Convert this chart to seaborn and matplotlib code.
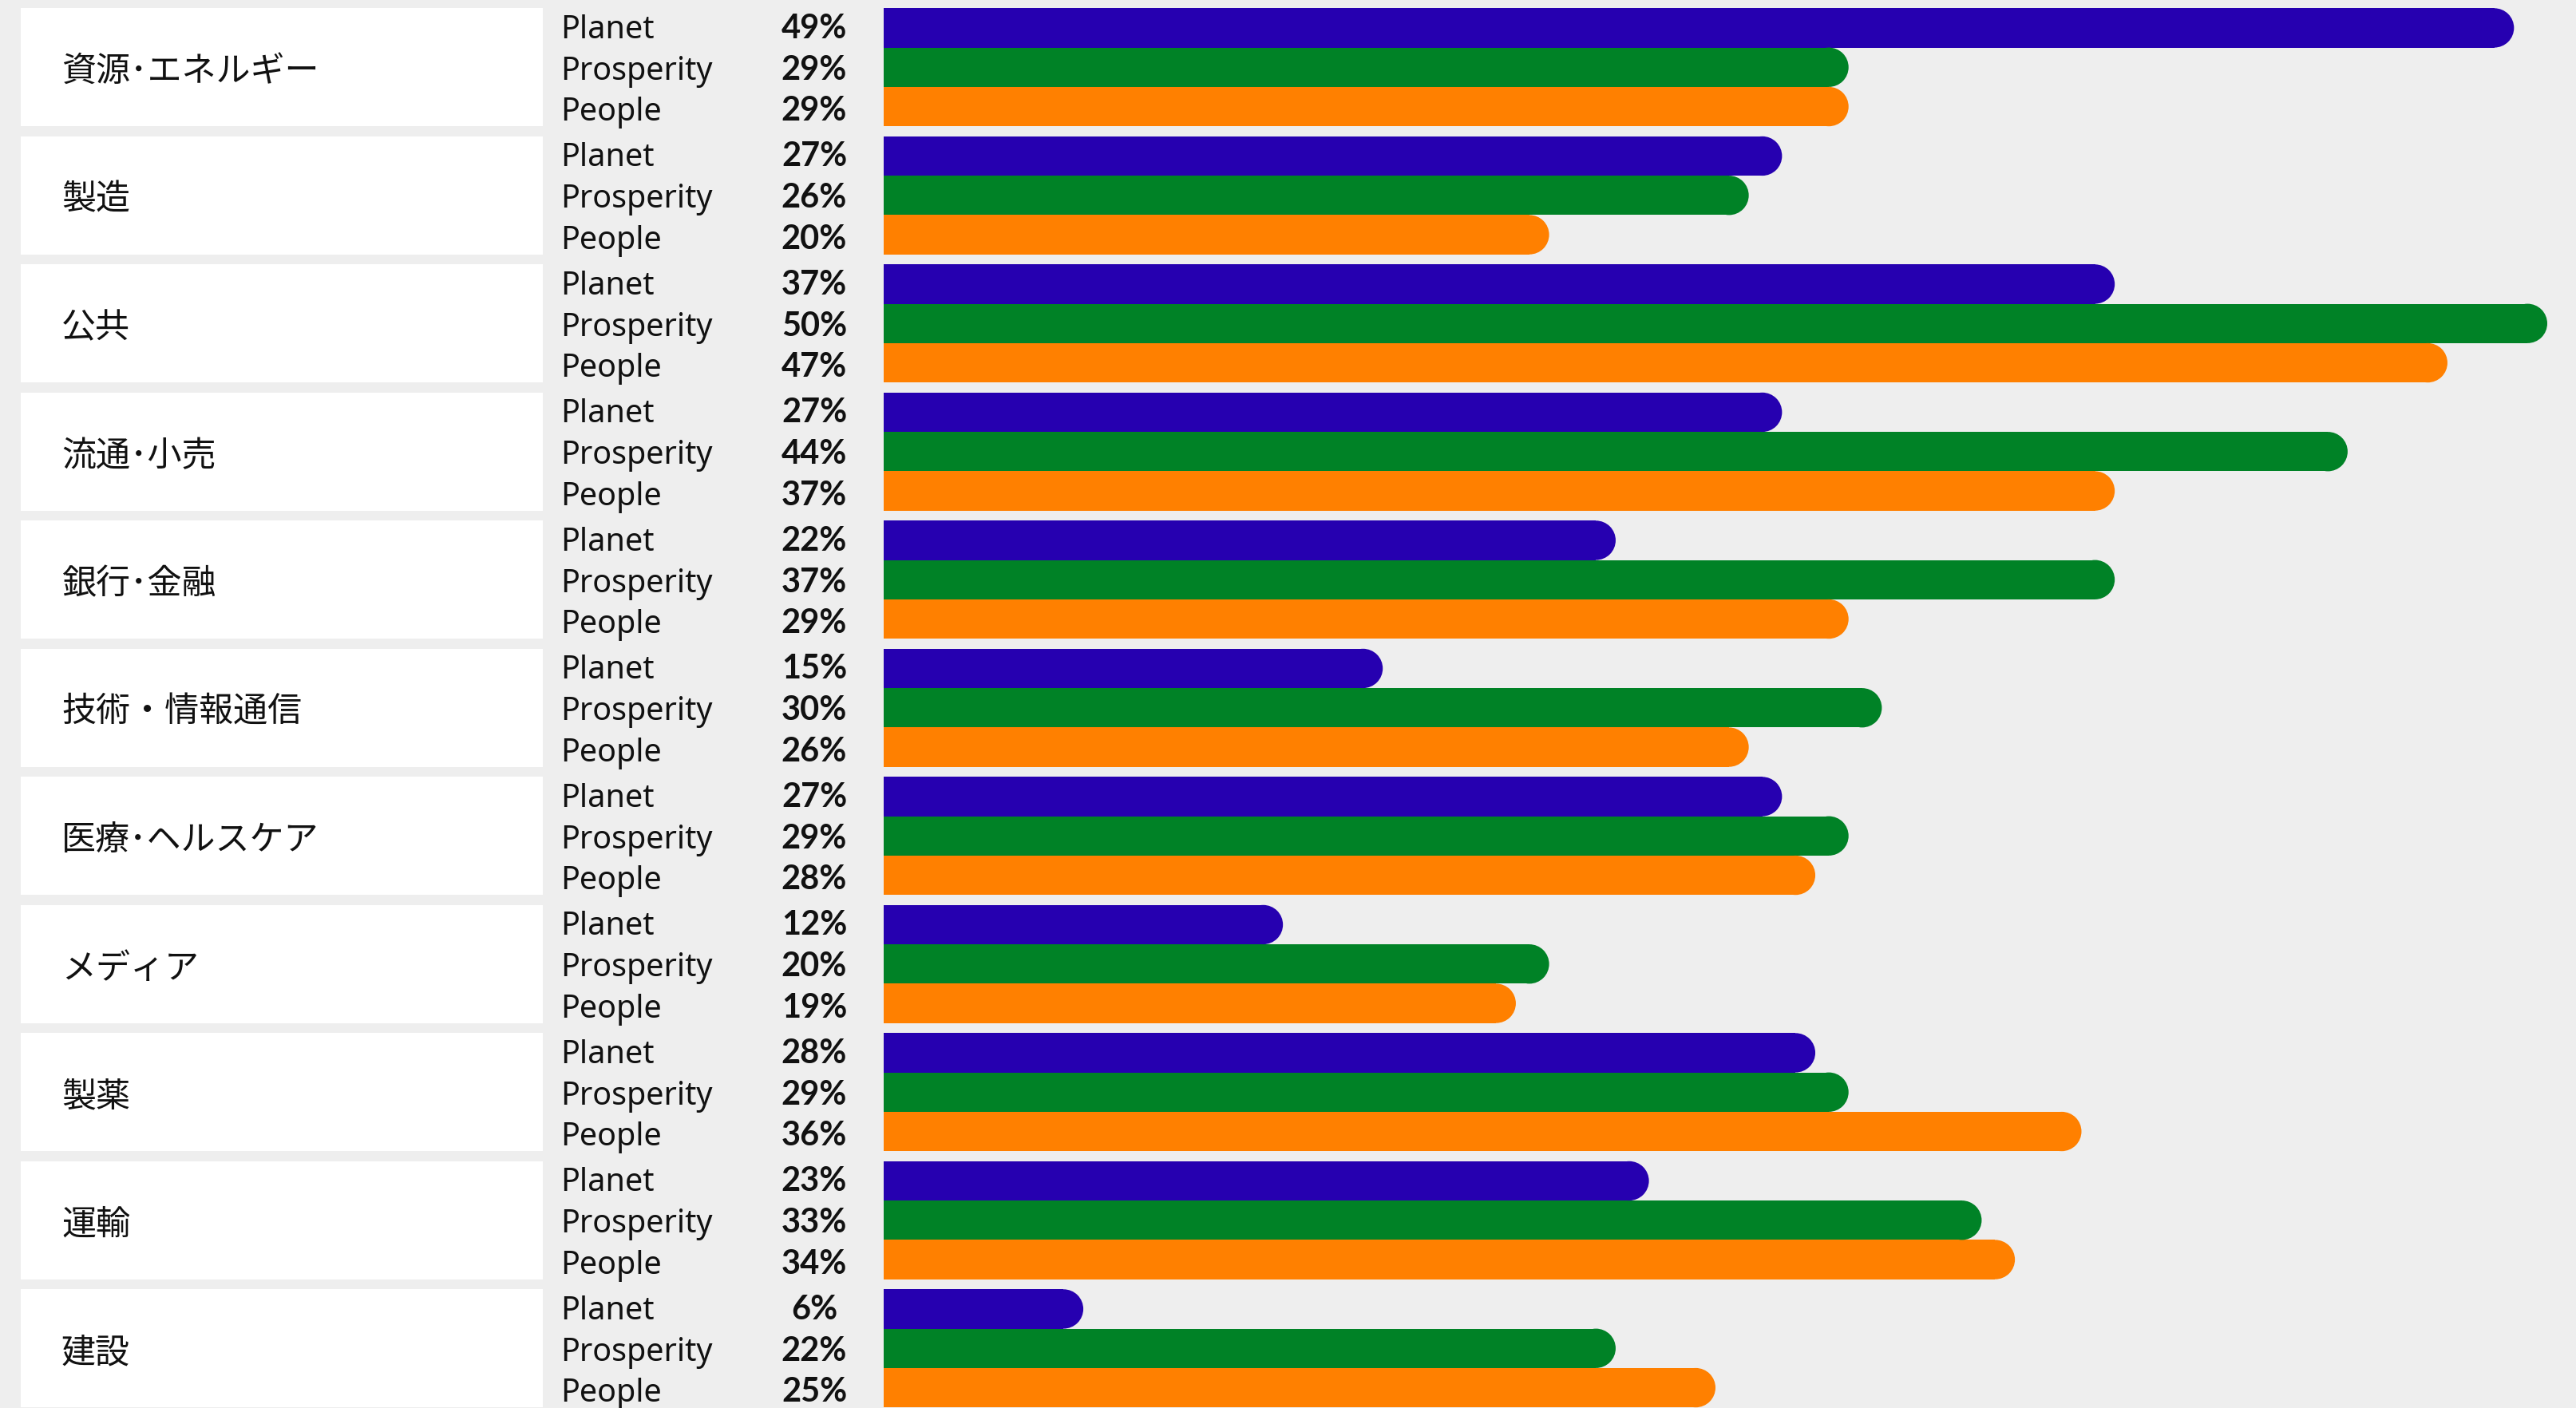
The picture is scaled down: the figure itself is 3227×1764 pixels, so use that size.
import matplotlib
matplotlib.use("Agg")
import matplotlib.pyplot as plt
from matplotlib.patches import Rectangle, Ellipse
from matplotlib.transforms import blended_transform_factory
import numpy as np
import pandas as pd
import seaborn as sns

# ---- data -------------------------------------------------------------
categories = ["資源･エネルギー", "製造", "公共", "流通･小売", "銀行･金融",
              "技術・情報通信", "医療･ヘルスケア", "メディア", "製薬", "運輸", "建設"]
series = ["Planet", "Prosperity", "People"]
planet = [49, 27, 37, 27, 22, 15, 27, 12, 28, 23, 6]
prosperity = [29, 26, 50, 44, 37, 30, 29, 20, 29, 33, 22]
people = [29, 20, 47, 37, 29, 26, 28, 19, 36, 34, 25]
colors = ["#2600B0", "#008226", "#FF8000"]

# ---- layout (pixels) --------------------------------------------------
W, H = 3227, 1764
X0 = 1107            # where 0 % sits
PX_PER_PCT = 41.68
ROW_PX = 49.3
GROUP_PX = 160.5
TOP_PX = 10.3
TEXT_FIRST_PX = 37.7   # first label baseline below the group top
TEXT_STEP_PX = 51.7    # label line spacing
BG = "#EEEEEE"

sns.set_theme(style="white")
plt.rcParams["font.family"] = ["Noto Sans", "Noto Sans CJK JP", "DejaVu Sans"]

group_step = GROUP_PX / ROW_PX
rows = []
for k, cat in enumerate(categories):
    for j, (name, vals) in enumerate(zip(series, [planet, prosperity, people])):
        rows.append({"category": cat, "series": name, "value": vals[k],
                     "group": k, "slot": j, "pos": k * group_step + j})
df = pd.DataFrame(rows)

fig = plt.figure(figsize=(W / 100, H / 100), dpi=100, facecolor=BG)
ax = fig.add_axes([X0 / W, 0, 1 - X0 / W, 1])
ax.set_facecolor(BG)

sns.barplot(data=df, x="value", y="pos", hue="series", hue_order=series,
            palette=colors, orient="y", native_scale=True, width=1.0,
            dodge=False, errorbar=None, saturation=1, linewidth=0,
            legend=False, ax=ax)

xmax = (W - X0) / PX_PER_PCT
y_top = -(TOP_PX + ROW_PX / 2) / ROW_PX
y_bot = y_top + H / ROW_PX
ax.set_xlim(0, xmax)
ax.set_ylim(y_bot, y_top)
ax.axis("off")

# rounded right ends
r_x = (ROW_PX / 2) / PX_PER_PCT
for p in list(ax.patches):
    w = p.get_width()
    if w <= 0:
        continue
    p.set_width(w - r_x)
    p.set_linewidth(0)
    cap = Ellipse((w - r_x, p.get_y() + p.get_height() / 2), 2 * r_x,
                  p.get_height(), facecolor=p.get_facecolor(), linewidth=0)
    ax.add_patch(cap)

# left-hand label panels and texts
tr = blended_transform_factory(fig.transFigure, ax.transData)
for k, cat in enumerate(categories):
    g0 = k * group_step - 0.5
    ax.add_patch(Rectangle((26 / W, g0), (680 - 26) / W, 3.0, transform=tr,
                           facecolor="white", edgecolor="none", clip_on=False))
    ax.text(77 / W, g0 + 1.5 + 0.12, cat, transform=tr, ha="left", va="center",
            fontsize=31, family=["Noto Sans CJK JP", "DejaVu Sans"],
            color="#111111", clip_on=False)

for _, r in df.iterrows():
    g0 = r["group"] * group_step - 0.5
    y = g0 + (TEXT_FIRST_PX + TEXT_STEP_PX * r["slot"]) / ROW_PX
    ax.text(702 / W, y, r["series"], transform=tr, ha="left", va="baseline",
            fontsize=28.5, color="#111111", clip_on=False)
    ax.text(1020 / W, y, f"{r['value']}%", transform=tr, ha="center",
            va="baseline", fontsize=30, fontweight="bold",
            family=["Lato", "DejaVu Sans"], color="#111111", clip_on=False)

fig.savefig("out.png", dpi=100, facecolor=BG)
